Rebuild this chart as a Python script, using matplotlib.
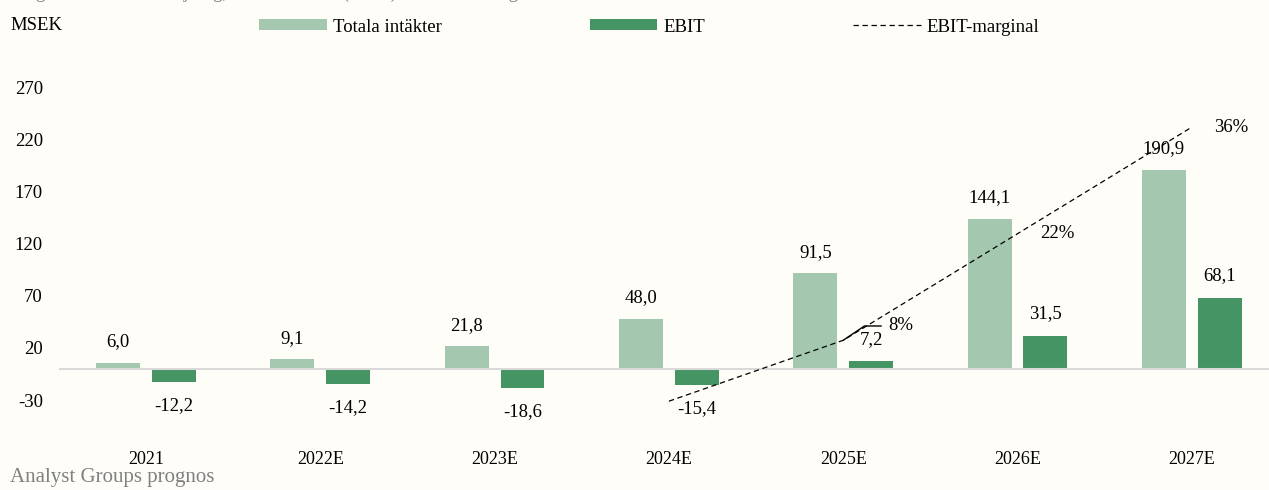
import numpy as np
import matplotlib.pyplot as plt

# data
years = ["2021", "2022E", "2023E", "2024E", "2025E", "2026E", "2027E"]
revenue = [6.0, 9.1, 21.8, 48.0, 91.5, 144.1, 190.9]
ebit = [-12.2, -14.2, -18.6, -15.4, 7.2, 31.5, 68.1]
margin = [np.nan, np.nan, np.nan, 0.0, 0.08, 0.22, 0.36]
margin_labels = [None, None, None, None, "8%", "22%", "36%"]
yticks = [-30, 20, 70, 120, 170, 220, 270]

c_rev = "#A3C8AF"
c_ebit = "#449464"
bg = "#FEFDF8"
fs = 13.5

plt.rcParams["font.family"] = ["Liberation Serif", "DejaVu Serif"]
plt.rcParams["axes.unicode_minus"] = False

fig = plt.figure(figsize=(12.69, 4.9), dpi=100, facecolor=bg)
W, H = 1269, 490
# axes in pixel terms: left 59, right 1279 (cropped), top 35, bottom 421
ax = fig.add_axes([58.8 / W, 1 - 421 / H, (1279 - 58.8) / W, 386 / H])
ax.set_facecolor(bg)

x = np.arange(len(years))
off = 0.16
bw = 0.252
ax.bar(x - off, revenue, bw, color=c_rev, label="Totala intäkter", zorder=2)
ax.bar(x + off, ebit, bw, color=c_ebit, label="EBIT", zorder=2)
ax.axhline(0, color="#D9D9D9", lw=1.5, zorder=3)

def fmt(v):
    return f"{v:.1f}".replace(".", ",")

for xi, v in zip(x, revenue):
    ax.annotate(fmt(v), (xi - off, v), xytext=(0, 15), textcoords="offset points",
                ha="center", va="center", fontsize=fs)
for xi, v in zip(x, ebit):
    dy = 16 if v >= 0 else -17
    ax.annotate(fmt(v), (xi + off, v), xytext=(0, dy), textcoords="offset points",
                ha="center", va="center", fontsize=fs)

ax.set_xlim(-0.5, len(years) - 0.5)
ax.set_ylim(-50, 320)
ax.set_yticks(yticks)
ax.set_xticks(x)
ax.set_xticklabels(years)
ax.tick_params(axis="y", length=0, pad=11.4, labelsize=fs)
ax.tick_params(axis="x", length=0, pad=21.5, labelsize=13)
for s in ax.spines.values():
    s.set_visible(False)

# secondary axis for margin
ax2 = ax.twinx()
ax2.set_ylim(-0.026, 0.481)
ax2.set_axis_off()
line, = ax2.plot(x, margin, color="black", lw=0.9, dashes=(4.3, 2.9),
                 label="EBIT-marginal", zorder=4)
for xi, m, lab in zip(x, margin, margin_labels):
    if lab is None:
        continue
    if lab == "8%":
        ax2.annotate(lab, (xi, m), xytext=(32.4, 10.3), textcoords="offset points",
                     ha="left", va="center", fontsize=fs,
                     arrowprops=dict(arrowstyle="-", color="black", lw=1.0,
                                     connectionstyle="angle,angleA=0,angleB=34,rad=0",
                                     relpos=(0, 0.5), patchA=None, shrinkA=5, shrinkB=0))
    else:
        ax2.annotate(lab, (xi, m), xytext=(16, 0), textcoords="offset points",
                     ha="left", va="center", fontsize=fs)

h1, l1 = ax.get_legend_handles_labels()
leg = fig.legend(h1 + [line], l1 + ["EBIT-marginal"], loc="center left",
                 bbox_to_anchor=(259 / W, 1 - 27 / H), ncol=3, frameon=False,
                 fontsize=fs, borderpad=0, borderaxespad=0, handlelength=3.6,
                 handleheight=0.53, handletextpad=0.33, columnspacing=7.9)

fig.text(10 / W, 1 - 25 / H, "MSEK", fontsize=fs, ha="left", va="center")
fig.text(10 / W, 1 - 482 / H, "Analyst Groups prognos", fontsize=15,
         color="#808080", ha="left", va="baseline")
# title line that is cut off by the top edge in the reference (only descenders show)
fig.text(10 / W, 1 + 2 / H,
         "Prognos för total försäljning, rörelseresultat (EBIT) och EBIT-marginal 2021–2027E",
         fontsize=fs, color="#808080", ha="left", va="baseline")

fig.savefig("out.png", dpi=100, facecolor=bg)
